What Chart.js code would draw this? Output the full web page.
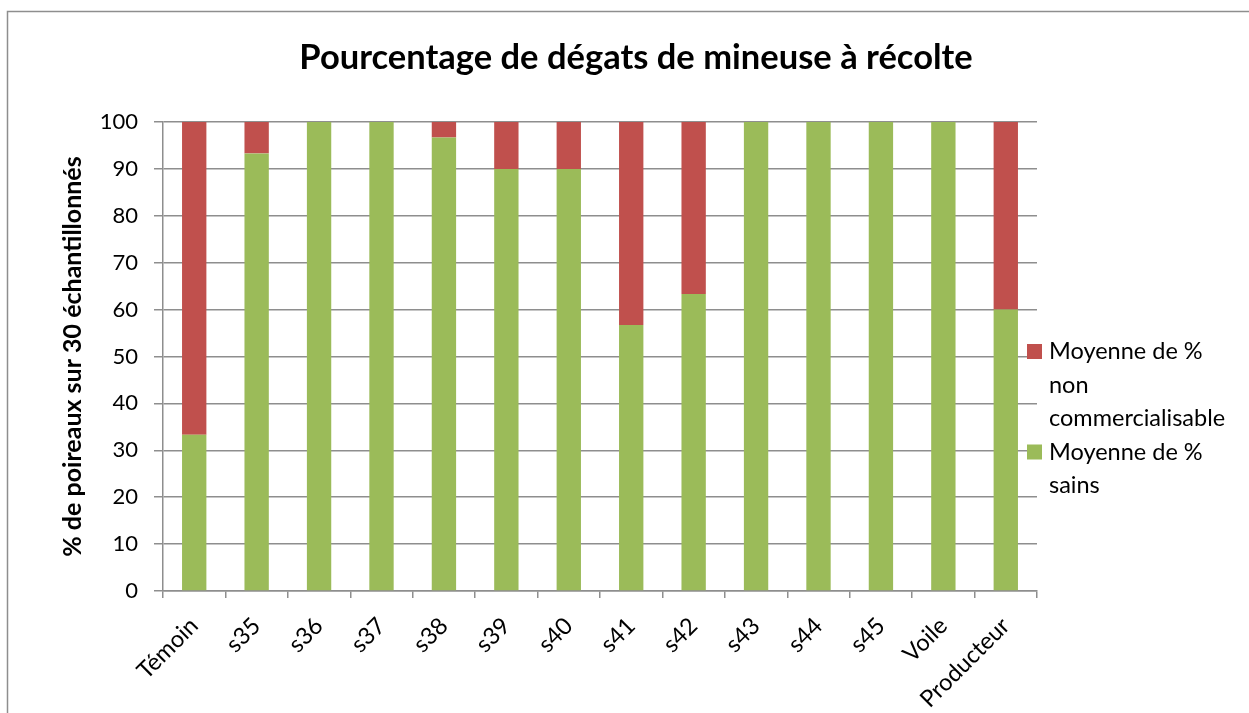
<!DOCTYPE html>
<html lang="fr">
<head>
<meta charset="utf-8">
<title>Pourcentage de dégats de mineuse à récolte</title>
<script src="https://cdn.jsdelivr.net/npm/chart.js@4/dist/chart.umd.min.js"></script>
<style>
    html, body { margin: 0; padding: 0; background: #fff; }
    canvas { display: block; }
</style>
</head>
<body>
<canvas id="chart" width="1249" height="713"></canvas>
<script>
const chartTitle = 'Pourcentage de dégats de mineuse à récolte';
const categories = ['Témoin', 's35', 's36', 's37', 's38', 's39', 's40', 's41', 's42', 's43', 's44', 's45', 'Voile', 'Producteur'];
const sains = [33.3, 93.3, 100, 100, 96.7, 90, 90, 56.7, 63.3, 100, 100, 100, 100, 60];
const nonCommercialisable = [66.7, 6.7, 0, 0, 3.3, 10, 10, 43.3, 36.7, 0, 0, 0, 0, 40];
const yTicks = [0, 10, 20, 30, 40, 50, 60, 70, 80, 90, 100];

const seriesSains = ['Moyenne de %', 'sains'];
const seriesNonCommercialisable = ['Moyenne de %', 'non', 'commercialisable'];

const green = '#9BBB59';
const red = '#C0504D';
const gridColor = '#8E8E8E';
const fontFamily = 'Lato, "Open Sans", sans-serif';

const frame = {
    id: 'frame',
    beforeDraw: chart => {
        const ctx = chart.ctx;
        ctx.save();
        ctx.fillStyle = '#fff';
        ctx.fillRect(0, 0, chart.width, chart.height);
        ctx.strokeStyle = gridColor;
        ctx.lineWidth = 1.5;
        ctx.strokeRect(7.5, 11.5, chart.width, chart.height);
        // title is centred on the whole frame, not on the plot
        ctx.fillStyle = '#000';
        ctx.font = 'bold 34.5px ' + fontFamily;
        ctx.textAlign = 'center';
        ctx.textBaseline = 'middle';
        ctx.fillText(chartTitle, 636, 58);
        ctx.restore();
    }
};

// excel style legend, reversed order and wrapped text
const sideLegend = {
    id: 'sideLegend',
    afterDraw: chart => {
        const ctx = chart.ctx;
        const area = chart.chartArea;
        const x = area.right - 10;
        const lineHeight = 33.5;
        let y = area.top + 237;
        ctx.save();
        ctx.font = '23.5px ' + fontFamily;
        ctx.textBaseline = 'alphabetic';
        ctx.textAlign = 'left';
        const items = chart.data.datasets.slice().reverse();
        items.forEach(ds => {
            ctx.fillStyle = ds.backgroundColor;
            ctx.fillRect(x, y - 15, 15, 15);
            ctx.fillStyle = '#000';
            ds.label.forEach(line => {
                ctx.fillText(line, x + 22, y);
                y += lineHeight;
            });
        });
        ctx.restore();
    }
};

new Chart(document.getElementById('chart'), {
    type: 'bar',
    data: {
        labels: categories,
        datasets: [{
            label: seriesSains,
            data: sains,
            backgroundColor: green,
            barPercentage: 0.39,
            categoryPercentage: 1
        }, {
            label: seriesNonCommercialisable,
            data: nonCommercialisable,
            backgroundColor: red,
            barPercentage: 0.39,
            categoryPercentage: 1
        }]
    },
    options: {
        responsive: false,
        animation: false,
        layout: {
            padding: { left: 0, right: 212, top: 122, bottom: 0 }
        },
        plugins: {
            legend: { display: false },
            tooltip: { enabled: false },
            title: { display: false }
        },
        scales: {
            x: {
                stacked: true,
                offset: true,
                afterFit: scale => { scale.height = 122; },
                grid: {
                    offset: true,
                    drawOnChartArea: false,
                    tickLength: 7,
                    color: gridColor,
                    lineWidth: 1.5
                },
                border: { color: gridColor, width: 1.5 },
                ticks: {
                    autoSkip: false,
                    minRotation: 45,
                    maxRotation: 45,
                    padding: 14,
                    color: '#000',
                    font: { family: fontFamily, size: 23.5 }
                }
            },
            y: {
                stacked: true,
                min: 0,
                max: 100,
                afterFit: scale => { scale.width = 163; },
                afterBuildTicks: scale => {
                    scale.ticks = yTicks.map(v => ({ value: v }));
                },
                grid: {
                    tickLength: 9,
                    color: gridColor,
                    lineWidth: 1.5
                },
                border: { color: gridColor, width: 1.5 },
                ticks: {
                    padding: 16,
                    color: '#000',
                    font: { family: fontFamily, size: 22 }
                },
                title: {
                    display: true,
                    text: '% de poireaux sur 30 échantillonnés',
                    color: '#000',
                    font: { family: fontFamily, size: 25, weight: 'bold' },
                    padding: { top: 58, bottom: 58 }
                }
            }
        }
    },
    plugins: [frame, sideLegend]
});
</script>
</body>
</html>
